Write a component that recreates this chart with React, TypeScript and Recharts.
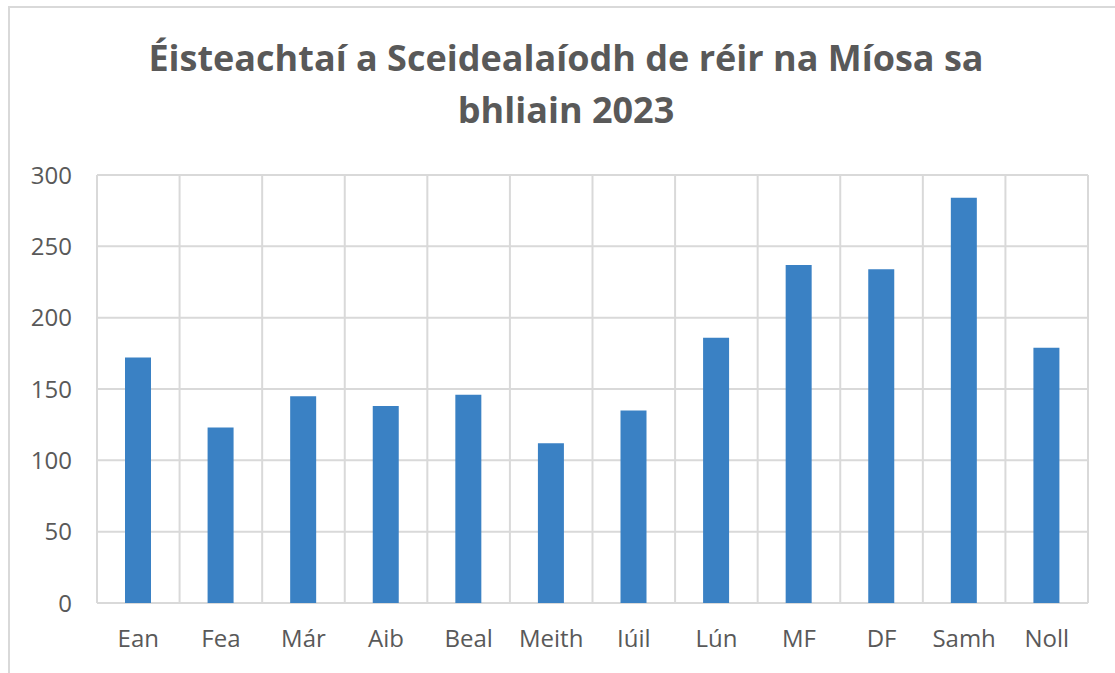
import React from "react";
import { BarChart, Bar, XAxis, YAxis, CartesianGrid } from "recharts";

const months = ["Ean", "Fea", "Már", "Aib", "Beal", "Meith", "Iúil", "Lún", "MF", "DF", "Samh", "Noll"];
const hearings = [172, 123, 145, 138, 146, 112, 135, 186, 237, 234, 284, 179];
const yTicks = [0, 50, 100, 150, 200, 250, 300];

const data = months.map((m, i) => ({ month: m, value: hearings[i] }));

const grid = "#D9D9D9";
const textColor = "#595959";
const font = "'Open Sans', sans-serif";

export default function App() {
  return (
    <div style={{ position: "absolute", left: 0, top: 0, width: 1115, height: 673, background: "#fff", overflow: "hidden" }}>
      <div
        style={{
          position: "absolute",
          left: 8,
          top: 6,
          width: 1120,
          height: 700,
          borderTop: "2px solid #D9D9D9",
          borderLeft: "2px solid #D9D9D9",
        }}
      />
      <div
        style={{
          position: "absolute",
          left: 0,
          top: 32,
          width: 1132,
          textAlign: "center",
          fontFamily: font,
          fontWeight: 700,
          fontSize: 36,
          lineHeight: "52px",
          color: textColor,
        }}
      >
        Éisteachtaí a Sceidealaíodh de réir na Míosa sa
        <br />
        bhliain 2023
      </div>
      <div style={{ position: "absolute", left: 0, top: 0 }}>
        <BarChart
          width={1115}
          height={673}
          data={data}
          margin={{ top: 175, right: 27, bottom: 0, left: 0 }}
          barCategoryGap={0}
        >
          <CartesianGrid
            stroke={grid}
            strokeWidth={2}
            verticalCoordinatesGenerator={({ offset }: any) =>
              months.map((_, i) => offset.left + (offset.width * i) / months.length).concat(offset.left + offset.width)
            }
          />
          <XAxis
            dataKey="month"
            axisLine={false}
            tickLine={false}
            tickSize={0}
            tickMargin={27}
            height={70}
            interval={0}
            tick={{ fill: textColor, fontSize: 24, fontFamily: font }}
          />
          <YAxis
            domain={[0, 300]}
            ticks={yTicks}
            axisLine={false}
            tickLine={false}
            tickSize={0}
            tickMargin={25}
            width={97}
            tick={{ fill: textColor, fontSize: 24, fontFamily: font }}
          />
          <Bar dataKey="value" fill="#3A81C4" barSize={26} isAnimationActive={false} />
        </BarChart>
      </div>
    </div>
  );
}
